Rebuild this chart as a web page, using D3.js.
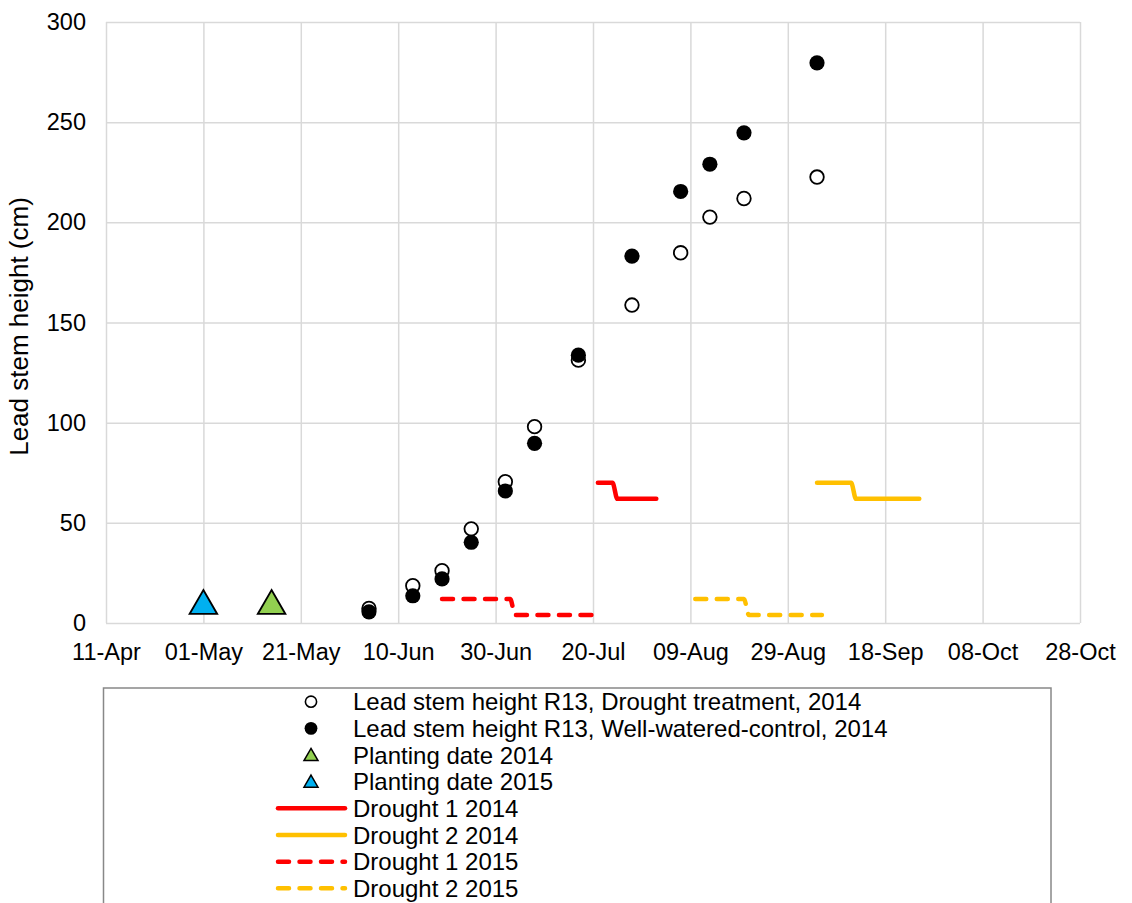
<!DOCTYPE html>
<html><head><meta charset="utf-8">
<script src="https://cdn.jsdelivr.net/npm/d3@7"></script>
<style>
body{margin:0;background:#fff}
svg{display:block}
text{font-family:"Liberation Sans",Arial,Helvetica,sans-serif;fill:#000}
</style>
</head><body>
<svg id="chart" width="1132" height="903"></svg>
<script>
// ---------- data ----------
const xTickLabels = ["11-Apr","01-May","21-May","10-Jun","30-Jun","20-Jul","09-Aug","29-Aug","18-Sep","08-Oct","28-Oct"];
const yTicks = [0,50,100,150,200,250,300];

const sampleDates = ["2014-06-04","2014-06-13","2014-06-19","2014-06-25","2014-07-02","2014-07-08","2014-07-17","2014-07-28","2014-08-07","2014-08-13","2014-08-20","2014-09-04"];
const droughtHeights = [7.3,18.6,26.1,47,70.5,98,131.2,158.7,184.8,202.6,211.9,222.6];
const controlHeights = [5.6,13.6,22,40.3,65.9,89.7,133.7,183.1,215.4,229,244.7,279.6];

// planting dates (day-month on common axis)
const planting2014Dates = ["2014-05-15"];
const planting2014Values = [10];
const planting2015Dates = ["2014-05-01"];
const planting2015Values = [10];

// drought periods (day-month on common axis)
const drought1_2014Dates = ["2014-07-21","2014-07-24","2014-07-25","2014-08-02"];
const drought1_2014Values = [70,70,62,62];
const drought2_2014Dates = ["2014-09-04","2014-09-11","2014-09-12","2014-09-25"];
const drought2_2014Values = [70,70,62,62];
const drought1_2015Dates = ["2014-06-19","2014-07-03","2014-07-04","2014-07-20"];
const drought1_2015Values = [12,12,4,4];
const drought2_2015Dates = ["2014-08-10","2014-08-20","2014-08-21","2014-09-05"];
const drought2_2015Values = [12,12,4,4];

const legendLabels = [
  "Lead stem height R13, Drought treatment, 2014",
  "Lead stem height R13, Well-watered-control, 2014",
  "Planting date 2014",
  "Planting date 2015",
  "Drought 1 2014",
  "Drought 2 2014",
  "Drought 1 2015",
  "Drought 2 2015"
];

// ---------- setup ----------
const parse = d3.utcParse("%Y-%m-%d");
const parseTick = d3.utcParse("%d-%b-%Y");
const tickDates = xTickLabels.map(l => parseTick(l + "-2014"));

const L = 106, R = 1080, T = 22, B = 623;
const FS = 23.5, LFS = 24, TFS = 26;
const svg = d3.select("#chart");

const x = d3.scaleUtc().domain([tickDates[0], tickDates[tickDates.length-1]]).range([L, R]);
const y = d3.scaleLinear().domain([0, 300]).range([B, T]);

const GRID = "#d9d9d9";
const RED = "#ff0000", YEL = "#ffc000", BLUE = "#00b0f0", GREEN = "#92d050";

// gridlines via axes
const gx = svg.append("g").attr("transform", `translate(0,${B})`)
  .call(d3.axisBottom(x).tickValues(tickDates).tickSize(-(B - T)).tickFormat((d,i) => xTickLabels[i]).tickPadding(20.5));
gx.select(".domain").remove();
gx.selectAll(".tick line").attr("stroke", GRID).attr("stroke-width", 1.5);
gx.selectAll(".tick text").attr("font-size", FS).attr("font-family", null).attr("fill", "#000").attr("dy", "0.71em");

const gy = svg.append("g").attr("transform", `translate(${L},0)`)
  .call(d3.axisLeft(y).tickValues(yTicks).tickSize(-(R - L)).tickPadding(20));
gy.select(".domain").remove();
gy.selectAll(".tick line").attr("stroke", GRID).attr("stroke-width", 1.5);
gy.selectAll(".tick text").attr("font-size", FS).attr("font-family", null).attr("fill", "#000");

// y axis title
svg.append("text")
  .attr("transform", `translate(28,${(T + B) / 2 + 4}) rotate(-90)`)
  .attr("text-anchor", "middle")
  .attr("font-size", TFS)
  .text("Lead stem height (cm)");

// ---------- drought lines ----------
const line = d3.line().x(d => x(d[0])).y(d => y(d[1])).curve(d3.curveMonotoneX);
function zipDates(ds, vs){ return ds.map((d,i) => [parse(d), vs[i]]); }
const DASH = "11,10.5";
const lines = [
  {dates: drought1_2014Dates, vals: drought1_2014Values, color: RED, dash: null},
  {dates: drought2_2014Dates, vals: drought2_2014Values, color: YEL, dash: null},
  {dates: drought1_2015Dates, vals: drought1_2015Values, color: RED, dash: DASH},
  {dates: drought2_2015Dates, vals: drought2_2015Values, color: YEL, dash: DASH}
];
lines.forEach(s => {
  svg.append("path")
    .attr("d", line(zipDates(s.dates, s.vals)))
    .attr("fill", "none")
    .attr("stroke", s.color)
    .attr("stroke-width", 4.5)
    .attr("stroke-linecap", "round")
    .attr("stroke-linejoin", "round")
    .attr("stroke-dasharray", s.dash);
});

// ---------- points ----------
const drought = zipDates(sampleDates, droughtHeights);
const control = zipDates(sampleDates, controlHeights);

svg.append("g").selectAll("circle").data(drought).join("circle")
  .attr("cx", d => x(d[0])).attr("cy", d => y(d[1])).attr("r", 6.8)
  .attr("fill", "#fff").attr("stroke", "#000").attr("stroke-width", 1.8);

svg.append("g").selectAll("circle").data(control).join("circle")
  .attr("cx", d => x(d[0])).attr("cy", d => y(d[1])).attr("r", 7.6)
  .attr("fill", "#000");

const triBig = d3.symbol().type(d3.symbolTriangle).size(330);
function triangles(dates, vals, color){
  svg.append("g").selectAll("path").data(zipDates(dates, vals)).join("path")
    .attr("d", triBig)
    .attr("transform", d => `translate(${x(d[0])},${y(d[1]) + 3})`)
    .attr("fill", color).attr("stroke", "#000").attr("stroke-width", 1.8)
    .attr("stroke-linejoin", "miter");
}
triangles(planting2014Dates, planting2014Values, GREEN);
triangles(planting2015Dates, planting2015Values, BLUE);

// ---------- legend ----------
const lg = svg.append("g");
lg.append("rect").attr("x", 103.5).attr("y", 688).attr("width", 947.5).attr("height", 240)
  .attr("fill", "#fff").attr("stroke", "#888").attr("stroke-width", 1.5);

const rowY0 = 701.7, rowDy = 26.66, mx = 311, lx0 = 276, lx1 = 347, tx = 353;
legendLabels.forEach((lab, i) => {
  const cy = rowY0 + i * rowDy;
  lg.append("text").attr("x", tx).attr("y", cy).attr("dy", "0.36em").attr("font-size", LFS).text(lab);
});
// markers
lg.append("circle").attr("cx", mx).attr("cy", rowY0).attr("r", 5.6).attr("fill", "#fff").attr("stroke", "#000").attr("stroke-width", 1.6);
lg.append("circle").attr("cx", mx).attr("cy", rowY0 + rowDy).attr("r", 6.4).attr("fill", "#000");
const triSmall = d3.symbol().type(d3.symbolTriangle).size(85);
lg.append("path").attr("d", triSmall).attr("transform", `translate(${mx},${rowY0 + 2*rowDy + 1.5})`).attr("fill", GREEN).attr("stroke", "#000").attr("stroke-width", 1.5);
lg.append("path").attr("d", triSmall).attr("transform", `translate(${mx},${rowY0 + 3*rowDy + 1.5})`).attr("fill", BLUE).attr("stroke", "#000").attr("stroke-width", 1.5);
lines.forEach((s, k) => {
  const cy = rowY0 + (4 + k) * rowDy;
  lg.append("line").attr("x1", lx0 + 2).attr("x2", lx1 - 2).attr("y1", cy).attr("y2", cy)
    .attr("stroke", s.color).attr("stroke-width", 4.5).attr("stroke-linecap", "round")
    .attr("stroke-dasharray", s.dash);
});
</script>
</body></html>
